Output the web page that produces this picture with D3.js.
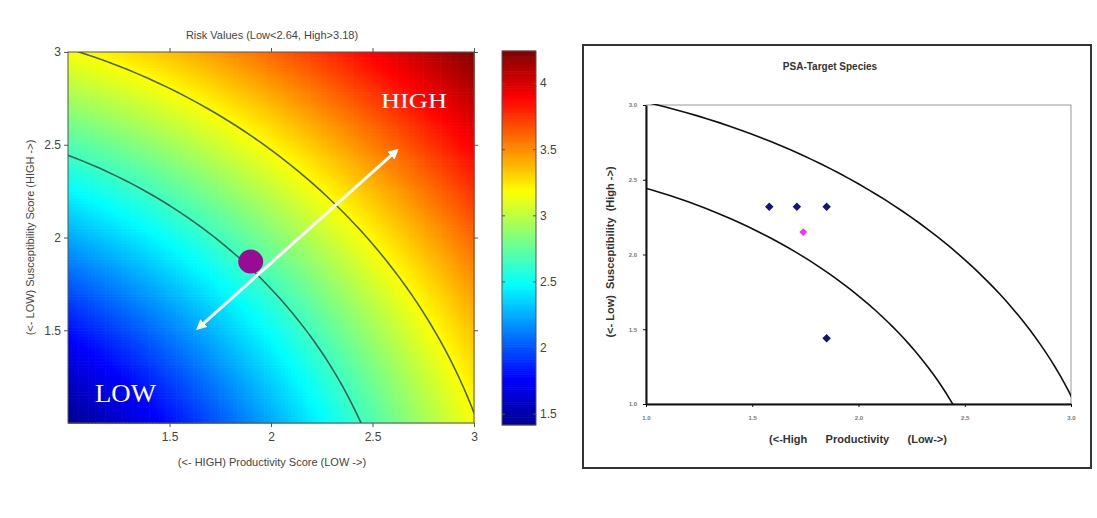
<!DOCTYPE html>
<html>
  <head>
  <title>PSA Risk Plots</title>
  <style>
    body, html {
      margin: 0;
      background: #fff;
    }
    text {
      font-family: "Liberation Sans", Arial, sans-serif;
    }
  </style>
  </head>
  <body>
    <svg id="svg" width="1097" height="518"></svg>
  <script src="https://cdn.jsdelivr.net/npm/d3@7"></script>
  <script>
    // risk thresholds (low / high) and tick values
    const riskThresholds = [2.64, 3.18]
    const scoreDomain = [1, 3]
    const scoreTicks = [1.5, 2, 2.5, 3]
    const colorTicks = [1.5, 2, 2.5, 3, 3.5, 4]
    const psaTicks = [1.0, 1.5, 2.0, 2.5, 3.0]

    // example stock on the risk surface, and the gradient arrow ends
    const examplePoint = [1.9, 1.87]
    const arrowStart = [1.65, 1.52]
    const arrowEnd = [2.61, 2.46]

    // PSA target species scores
    const speciesProductivity = [1.58, 1.71, 1.85, 1.85]
    const speciesSusceptibility = [2.32, 2.32, 2.32, 1.44]
    const targetProductivity = [1.74]
    const targetSusceptibility = [2.15]

    const svg = d3.select('#svg')
    const risk = (p, s) => Math.sqrt(p * p + s * s)
    const riskDomain = [risk(1, 1), risk(3, 3)]

    // jet colormap
    const jet = d3.scaleLinear()
      .domain([0, 0.125, 0.375, 0.625, 0.875, 1])
      .range(["#00008f", "#0000ff", "#00ffff", "#ffff00", "#ff0000", "#800000"])
      .clamp(true)
    const riskNorm = d3.scaleLinear().domain(riskDomain).range([0, 1])
    const colorOf = v => jet(riskNorm(v))

    // ---------- left: risk surface ----------
    const x = d3.scaleLinear().domain(scoreDomain).range([68, 474])
    const y = d3.scaleLinear().domain(scoreDomain).range([423, 52])

    const n = 120
    const step = (scoreDomain[1] - scoreDomain[0]) / n
    const cells = []
    d3.range(n).forEach(i => {
      d3.range(n).forEach(j => {
        const p = scoreDomain[0] + i * step
        const s = scoreDomain[0] + j * step
        cells.push({ p, s, v: risk(p + step / 2, s + step / 2) })
      })
    })

    svg.append("g")
      .selectAll("rect")
      .data(cells)
      .enter().append("rect")
      .attr("x", d => x(d.p))
      .attr("y", d => y(d.s + step))
      .attr("width", x(step + 1) - x(1) + 0.6)
      .attr("height", y(1) - y(step + 1) + 0.6)
      .attr("fill", d => colorOf(d.v))

    svg.append("defs").append("clipPath")
      .attr("id", "leftClip")
      .append("rect")
      .attr("x", x(1)).attr("y", y(3))
      .attr("width", x(3) - x(1)).attr("height", y(1) - y(3))

    const arc = (t) => d3.range(0, 91, 1).map(a => {
      const r = a * Math.PI / 180
      return [t * Math.cos(r), t * Math.sin(r)]
    })

    const leftLine = d3.line().x(d => x(d[0])).y(d => y(d[1]))
    svg.append("g")
      .attr("clip-path", "url(#leftClip)")
      .selectAll("path")
      .data(riskThresholds)
      .enter().append("path")
      .attr("d", t => leftLine(arc(t)))
      .attr("fill", "none")
      .attr("stroke", "#2a4a3a")
      .attr("stroke-width", 1.6)
      .attr("stroke-opacity", 0.85)

    svg.append("ellipse")
      .attr("cx", x(examplePoint[0]))
      .attr("cy", y(examplePoint[1]))
      .attr("rx", 12.5)
      .attr("ry", 12)
      .attr("fill", "#9a0a94")

    const defs = svg.select("defs")
    defs.append("marker")
      .attr("id", "arrowHead")
      .attr("viewBox", "0 0 10 10")
      .attr("refX", 5).attr("refY", 5)
      .attr("markerWidth", 3.5).attr("markerHeight", 3.5)
      .attr("orient", "auto-start-reverse")
      .append("path")
      .attr("d", "M0,0 L10,5 L0,10 z")
      .attr("fill", "#fff")

    svg.append("line")
      .attr("x1", x(arrowStart[0])).attr("y1", y(arrowStart[1]))
      .attr("x2", x(arrowEnd[0])).attr("y2", y(arrowEnd[1]))
      .attr("stroke", "#fff")
      .attr("stroke-width", 3)
      .attr("marker-start", "url(#arrowHead)")
      .attr("marker-end", "url(#arrowHead)")

    svg.append("text")
      .attr("x", 381).attr("y", 108)
      .attr("textLength", 66)
      .attr("lengthAdjust", "spacingAndGlyphs")
      .text("HIGH")
      .style("font-family", "'Liberation Serif', 'Times New Roman', serif")
      .style("font-size", "22px")
      .attr("fill", "#fff")

    svg.append("text")
      .attr("x", 95).attr("y", 402)
      .attr("textLength", 61)
      .attr("lengthAdjust", "spacingAndGlyphs")
      .text("LOW")
      .style("font-family", "'Liberation Serif', 'Times New Roman', serif")
      .style("font-size", "25px")
      .attr("fill", "#fff")

    svg.append("rect")
      .attr("x", x(1)).attr("y", y(3))
      .attr("width", x(3) - x(1)).attr("height", y(1) - y(3))
      .attr("fill", "none")
      .attr("stroke", "#555")

    const styleAxis = g => {
      g.select(".domain").remove()
      g.selectAll("line").attr("stroke", "#555")
      g.selectAll("text").style("font-size", "12px").attr("fill", "#444")
        .style("font-family", "'Liberation Sans', Arial, sans-serif")
    }

    svg.append("g")
      .attr("transform", `translate(0, ${y(1)})`)
      .call(d3.axisBottom(x).tickValues(scoreTicks).tickSize(4).tickPadding(5).tickFormat(d3.format("~g")))
      .call(styleAxis)
    svg.append("g")
      .attr("transform", `translate(${x(1)}, 0)`)
      .call(d3.axisLeft(y).tickValues(scoreTicks).tickSize(4).tickPadding(3).tickFormat(d3.format("~g")))
      .call(styleAxis)
    svg.append("g")
      .attr("transform", `translate(0, ${y(3)})`)
      .call(d3.axisTop(x).tickValues(scoreTicks).tickSize(4).tickFormat(""))
      .call(styleAxis)
    svg.append("g")
      .attr("transform", `translate(${x(3)}, 0)`)
      .call(d3.axisRight(y).tickValues(scoreTicks).tickSize(4).tickFormat(""))
      .call(styleAxis)

    svg.append("text")
      .attr("x", 272).attr("y", 39)
      .attr("text-anchor", "middle")
      .text("Risk Values (Low<2.64, High>3.18)")
      .style("font-size", "11px")
      .attr("fill", "#444")

    svg.append("text")
      .attr("x", 272).attr("y", 466)
      .attr("text-anchor", "middle")
      .text("(<- HIGH) Productivity Score (LOW ->)")
      .style("font-size", "11px")
      .attr("fill", "#444")

    svg.append("text")
      .attr("transform", `translate(34, ${(y(1) + y(3)) / 2}) rotate(-90)`)
      .attr("text-anchor", "middle")
      .text("(<- LOW) Susceptibility Score (HIGH ->)")
      .style("font-size", "11px")
      .attr("fill", "#444")

    // colorbar
    const cy = d3.scaleLinear().domain(riskDomain).range([425, 51])
    const barSteps = d3.range(0, 200).map(i => riskDomain[0] + (riskDomain[1] - riskDomain[0]) * i / 200)
    const barStep = (riskDomain[1] - riskDomain[0]) / 200
    svg.append("g")
      .selectAll("rect")
      .data(barSteps)
      .enter().append("rect")
      .attr("x", 502)
      .attr("y", d => cy(d + barStep) - 0.3)
      .attr("width", 34)
      .attr("height", cy(riskDomain[0]) - cy(riskDomain[0] + barStep) + 0.6)
      .attr("fill", d => colorOf(d + barStep / 2))
    svg.append("rect")
      .attr("x", 502).attr("y", cy(riskDomain[1]))
      .attr("width", 34).attr("height", cy(riskDomain[0]) - cy(riskDomain[1]))
      .attr("fill", "none").attr("stroke", "#555")
    svg.append("g")
      .attr("transform", "translate(536, 0)")
      .call(d3.axisLeft(cy).tickValues(colorTicks).tickSize(3).tickFormat(""))
      .call(styleAxis)
    svg.append("g")
      .attr("transform", "translate(502, 0)")
      .call(d3.axisRight(cy).tickValues(colorTicks).tickSize(3).tickFormat(""))
      .call(styleAxis)
    svg.append("g")
      .attr("transform", "translate(536, 0)")
      .call(d3.axisRight(cy).tickValues(colorTicks).tickSize(0).tickPadding(4).tickFormat(d3.format("~g")))
      .call(styleAxis)

    // ---------- right: PSA target species ----------
    svg.append("rect")
      .attr("x", 583).attr("y", 45)
      .attr("width", 508).attr("height", 423)
      .attr("fill", "#fff")
      .attr("stroke", "#333")
      .attr("stroke-width", 2)

    const px = d3.scaleLinear().domain(scoreDomain).range([646, 1071])
    const py = d3.scaleLinear().domain(scoreDomain).range([404, 105])

    svg.append("rect")
      .attr("x", px(1)).attr("y", py(3))
      .attr("width", px(3) - px(1)).attr("height", py(1) - py(3))
      .attr("fill", "none").attr("stroke", "#999")

    defs.append("clipPath")
      .attr("id", "rightClip")
      .append("rect")
      .attr("x", px(1)).attr("y", py(3) - 1)
      .attr("width", px(3) - px(1)).attr("height", py(1) - py(3) + 1)

    const rightLine = d3.line().x(d => px(d[0])).y(d => py(d[1]))
    svg.append("g")
      .attr("clip-path", "url(#rightClip)")
      .selectAll("path")
      .data(riskThresholds)
      .enter().append("path")
      .attr("d", t => rightLine(arc(t)))
      .attr("fill", "none")
      .attr("stroke", "#111")
      .attr("stroke-width", 1.6)

    const psaAxis = g => {
      g.select(".domain").attr("stroke", "#111").attr("stroke-width", 2)
      g.selectAll("line").attr("stroke", "#111")
      g.selectAll("text").style("font-size", "6px").style("font-weight", "bold").attr("fill", "#777")
    }
    svg.append("g")
      .attr("transform", `translate(0, ${py(1)})`)
      .call(d3.axisBottom(px).tickValues(psaTicks).tickSize(3).tickSizeOuter(0).tickPadding(9).tickFormat(d3.format(".1f")))
      .call(psaAxis)
    svg.append("g")
      .attr("transform", `translate(${px(1)}, 0)`)
      .call(d3.axisLeft(py).tickValues(psaTicks).tickSize(3).tickSizeOuter(0).tickPadding(6).tickFormat(d3.format(".1f")))
      .call(psaAxis)

    const diamond = d3.symbol().type(d3.symbolSquare).size(36)
    svg.append("g")
      .selectAll("path")
      .data(speciesProductivity)
      .enter().append("path")
      .attr("d", diamond)
      .attr("transform", (d, i) => `translate(${px(d)}, ${py(speciesSusceptibility[i])}) rotate(45)`)
      .attr("fill", "#14147a")

    svg.append("g")
      .selectAll("path")
      .data(targetProductivity)
      .enter().append("path")
      .attr("d", d3.symbol().type(d3.symbolSquare).size(30))
      .attr("transform", (d, i) => `translate(${px(d)}, ${py(targetSusceptibility[i])}) rotate(45)`)
      .attr("fill", "#ff2cf0")

    svg.append("text")
      .attr("x", 830).attr("y", 70)
      .attr("text-anchor", "middle")
      .text("PSA-Target Species")
      .style("font-size", "10px")
      .style("font-weight", "bold")
      .attr("fill", "#333")

    svg.append("text")
      .attr("x", 858).attr("y", 443)
      .attr("text-anchor", "middle")
      .attr("xml:space", "preserve")
      .style("white-space", "pre")
      .text("(<-High      Productivity      (Low->)")
      .style("font-size", "11px")
      .style("font-weight", "bold")
      .attr("fill", "#333")

    svg.append("text")
      .attr("transform", `translate(614, 252) rotate(-90)`)
      .attr("text-anchor", "middle")
      .attr("xml:space", "preserve")
      .style("white-space", "pre")
      .text("(<- Low)  Susceptibility  (High ->)")
      .style("font-size", "11px")
      .style("font-weight", "bold")
      .attr("fill", "#333")
  </script>
  </body>
</html>
